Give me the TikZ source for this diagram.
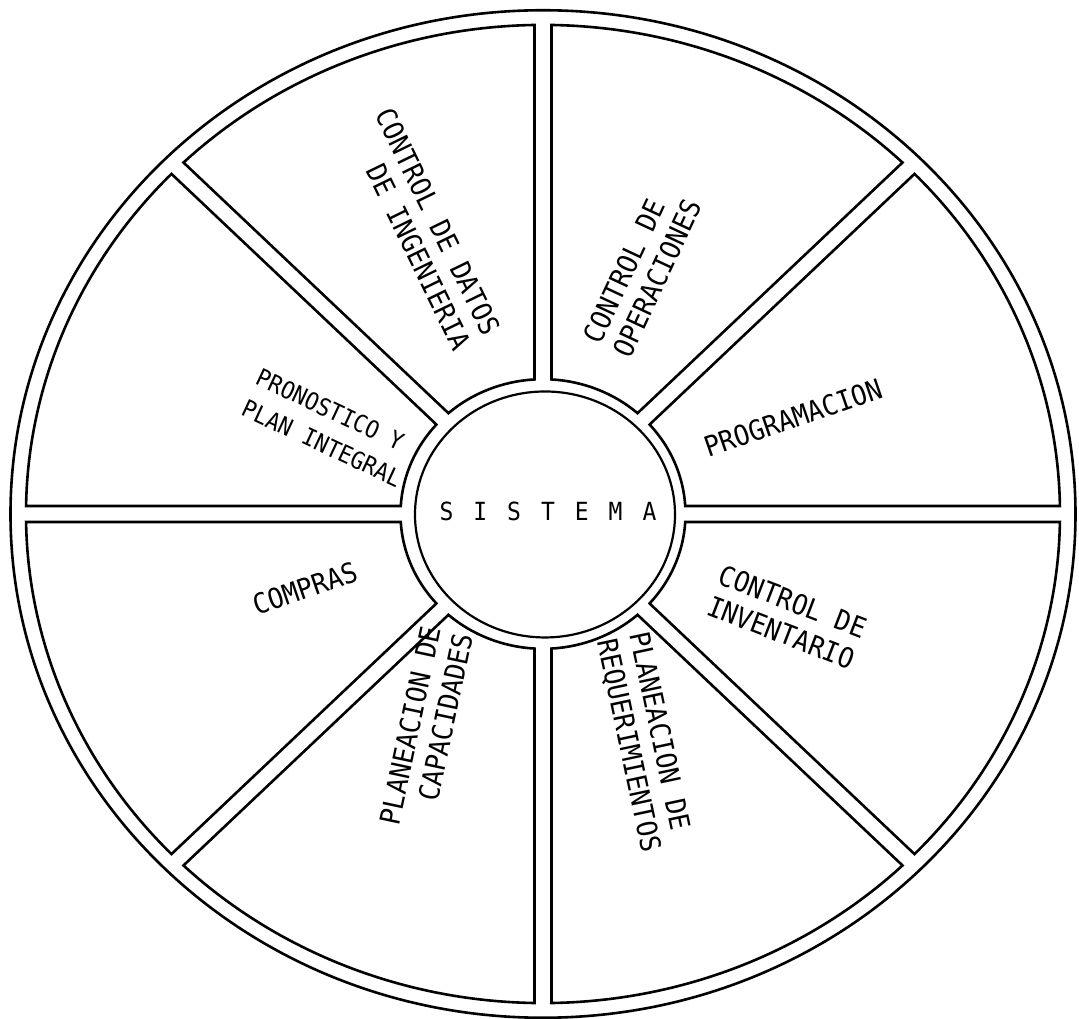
\documentclass[tikz,border=0pt]{standalone}
\usepackage{fontspec}
\usepackage{tikz}
\newfontfamily\lblfont[FakeStretch=0.92]{DejaVu Sans Mono}

\tikzset{
  rim/.style={line width=2.6pt},
  hubline/.style={line width=2.2pt},
  sectortext/.style={font=\lblfont\fontsize{28}{33}\selectfont, inner sep=0pt},
  smalltext/.style={font=\lblfont\fontsize{24}{34}\selectfont, inner sep=0pt}
}

\begin{document}
\begin{tikzpicture}[x=1pt,y=1pt]
        \useasboundingbox (-543,-505) rectangle (536,514);
        \begin{scope}[yscale=0.946]
            \draw[rim] (0,0) circle[radius=532.5];
            % the eight sectors between the spokes
            \foreach \a in {0,45,...,315} {
                \pgfmathsetmacro\b{\a+45}
                \pgfmathsetmacro\di{asin(8.5/142.5)}
                \pgfmathsetmacro\do{asin(8.5/517)}
                \draw[rim] (\a+\di:142.5) -- (\a+\do:517)
                    arc[start angle=\a+\do, end angle=\b-\do, radius=517]
                    -- (\b-\di:142.5)
                    arc[start angle=\b-\di, end angle=\a+\di, radius=142.5] -- cycle;
            }
            \draw[hubline] (2,-0.5) circle[radius=130];
        \end{scope}

        \node[font=\lblfont\fontsize{25}{30}\selectfont] (sistema) at (5,3)
            {S\hskip.8em I\hskip.8em S\hskip.8em T\hskip.8em E\hskip.8em M\hskip.8em A};

        \node[sectortext, rotate=-64, align=right] (datos) at (-120,285) {CONTROL DE DATOS\\DE INGENIERIA};
        \node[sectortext, rotate=65, align=left] (operaciones) at (99,243) {CONTROL DE\\OPERACIONES};
        \node[sectortext, rotate=19] (programacion) at (250,96) {PROGRAMACION};
        \node[sectortext, rotate=-21, align=center] (inventario) at (244,-103) {CONTROL DE\\INVENTARIO};
        \node[sectortext, rotate=-78, align=left] (requerimientos) at (101,-228) {PLANEACION DE\\REQUERIMIENTOS};
        \node[sectortext, rotate=78, align=right] (capacidades) at (-117,-215) {PLANEACION DE\\CAPACIDADES};
        \node[sectortext, rotate=19] (compras) at (-238,-74) {COMPRAS};
        \node[smalltext, rotate=-25, align=left] (pronostico) at (-214,86) {PRONOSTICO Y\\PLAN INTEGRAL};
\end{tikzpicture}
\end{document}
